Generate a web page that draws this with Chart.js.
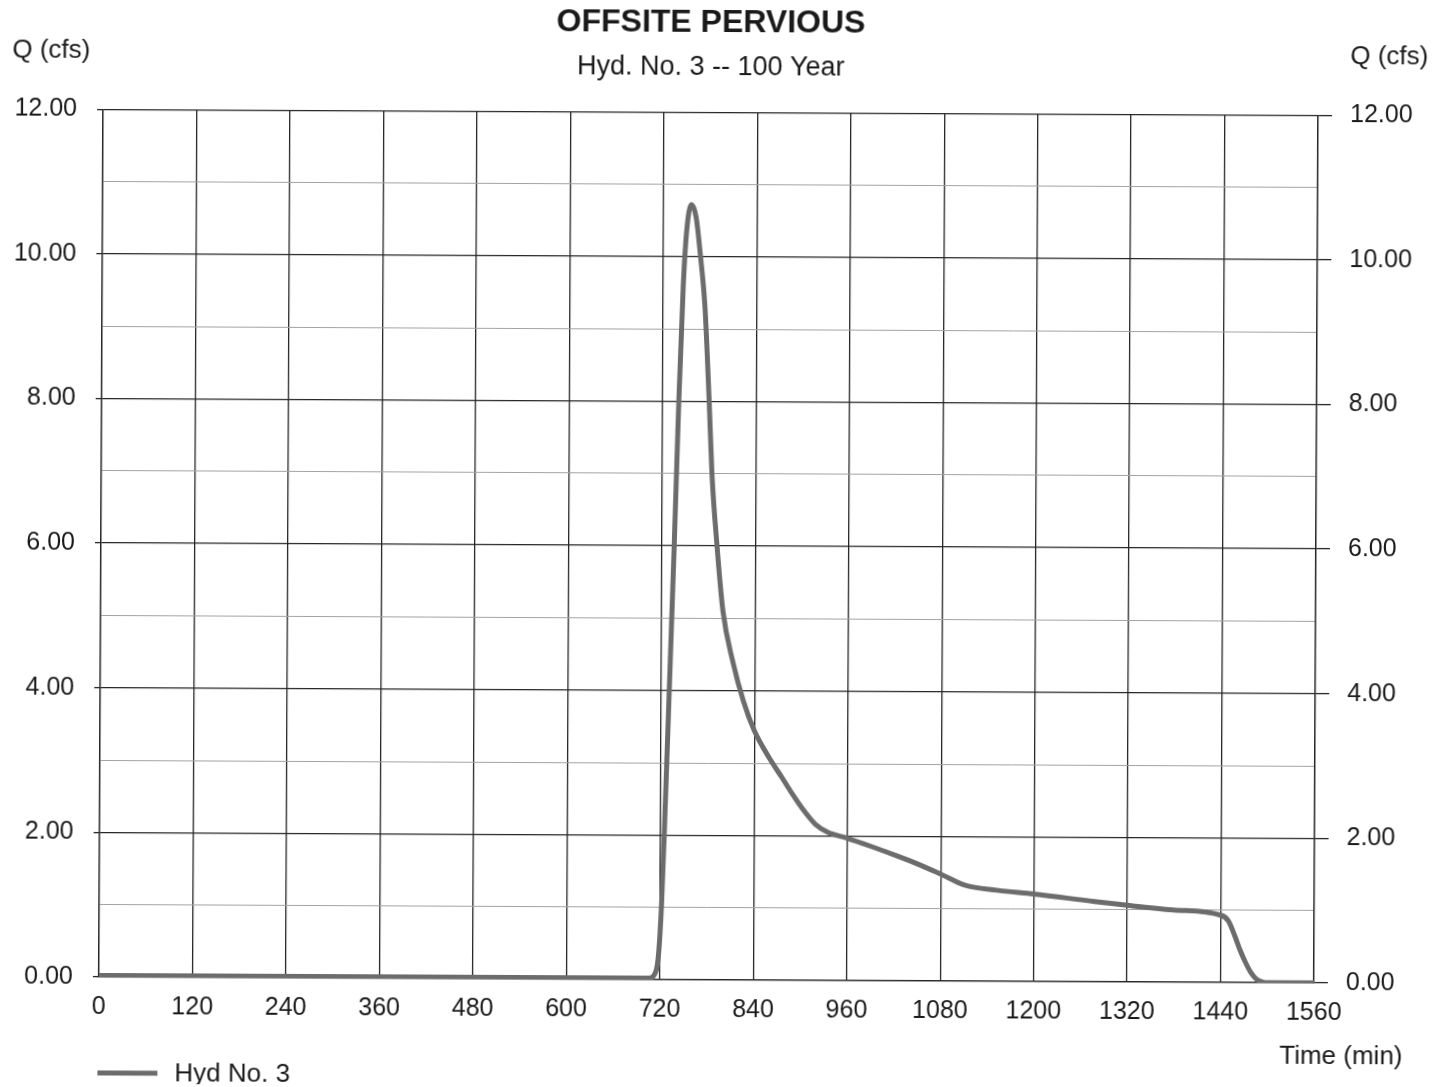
<!DOCTYPE html>
<html>
<head>
<meta charset="utf-8">
<title>Offsite Pervious - Hyd. No. 3</title>
<script src="https://cdn.jsdelivr.net/npm/chart.js@4.4.1/dist/chart.umd.min.js"></script>
<style>
  html, body { margin: 0; padding: 0; background: #fff; overflow: hidden; }
  #hydChart { display: block; transform: rotate(0.28deg); transform-origin: 50% 50%; }
</style>
</head>
<body>
<canvas id="hydChart" width="1445" height="1087"></canvas>
<script>
(function() {
    "use strict";

    // hydrograph ordinates: time (min) and flow (cfs)
    const timeMin = [0, 300, 600, 706, 712, 716, 718, 720, 722, 725, 730, 736, 741, 746, 750, 756,
        762, 768, 774, 780, 784, 791, 799, 812, 826, 840, 859, 876, 889, 904, 919, 935, 960,
        990, 1026, 1050, 1080, 1111, 1152, 1200, 1278, 1320, 1379, 1440, 1450, 1458, 1465,
        1472, 1479, 1486, 1494, 1500, 1530, 1560];
    const flowCfs = [0.02, 0.02, 0.02, 0.02, 0.05, 0.15, 0.3, 0.6, 1.05, 2.0, 3.8, 6.0, 8.0, 9.6, 10.35, 10.72,
        10.55, 10.0, 9.3, 8.0, 7.0, 6.0, 5.1, 4.4, 3.85, 3.45, 3.08, 2.8, 2.58, 2.35, 2.16, 2.05, 1.97,
        1.86, 1.72, 1.62, 1.48, 1.33, 1.26, 1.21, 1.11, 1.06, 1.0, 0.93, 0.85, 0.65, 0.45,
        0.28, 0.14, 0.05, 0.01, 0.0, 0.0, 0.0];

    const timeTicks = [0, 120, 240, 360, 480, 600, 720, 840, 960, 1080, 1200, 1320, 1440, 1560];
    const flowTicks = [0, 1, 2, 3, 4, 5, 6, 7, 8, 9, 10, 11, 12];
    const flowLabels = [0, 2, 4, 6, 8, 10, 12];

    const font = '"Liberation Sans", Arial, sans-serif';
    const ink = '#1a1a1a';
    const darkGrid = '#262626';
    const lightGrid = '#a3a3a3';

    const isMajor = v => flowLabels.includes(v);

    // axis captions and legend sit outside the plot box
    const pageText = {
        id: 'pageText',
        afterDraw(chart) {
            const { ctx, chartArea } = chart;
            const ds = chart.data.datasets[0];
            ctx.save();
            ctx.fillStyle = ink;
            ctx.font = '26px ' + font;
            ctx.textBaseline = 'middle';
            ctx.textAlign = 'left';
            ctx.fillText('Q (cfs)', 10, 54);
            ctx.fillText('Q (cfs)', chartArea.right + 32, 54);
            ctx.textAlign = 'right';
            ctx.fillText('Time (min)', 1405, 1054);

            ctx.strokeStyle = ds.borderColor;
            ctx.lineWidth = 5;
            ctx.beginPath();
            ctx.moveTo(100, 1076);
            ctx.lineTo(160, 1076);
            ctx.stroke();
            ctx.textAlign = 'left';
            ctx.fillText(ds.label, 177, 1077);
            ctx.restore();
        }
    };

    const ctx = document.getElementById('hydChart');
    new Chart(ctx, {
        type: 'line',
        data: {
            datasets: [{
                label: 'Hyd No. 3',
                data: timeMin.map((t, i) => ({ x: t, y: flowCfs[i] })),
                borderColor: '#6c6c6c',
                borderWidth: 5,
                pointRadius: 0,
                fill: false,
                cubicInterpolationMode: 'monotone'
            }]
        },
        options: {
            responsive: false,
            animation: false,
            layout: { padding: { top: 0, left: 0, right: 0, bottom: 0 } },
            plugins: {
                legend: { display: false },
                tooltip: { enabled: false },
                title: {
                    display: true,
                    fullSize: false,
                    text: 'OFFSITE PERVIOUS',
                    color: ink,
                    font: { family: font, size: 32, weight: 'bold', lineHeight: 1.2 },
                    padding: { top: 4, bottom: 4 }
                },
                subtitle: {
                    display: true,
                    fullSize: false,
                    text: 'Hyd. No. 3 -- 100 Year',
                    color: ink,
                    font: { family: font, size: 27, lineHeight: 1.2 },
                    padding: { top: 5, bottom: 28.4 }
                }
            },
            scales: {
                x: {
                    type: 'linear',
                    min: 0,
                    max: 1560,
                    afterBuildTicks: s => { s.ticks = timeTicks.map(v => ({ value: v })); },
                    afterFit: s => { s.height = 107; },
                    ticks: {
                        color: ink,
                        font: { family: font, size: 25 },
                        padding: 15,
                        maxRotation: 0,
                        autoSkip: false,
                        callback: v => String(v)
                    },
                    grid: { color: darkGrid, lineWidth: 1.3, drawTicks: false },
                    border: { display: true, color: darkGrid, width: 1.3 }
                },
                y: {
                    position: 'left',
                    min: 0,
                    max: 12,
                    afterBuildTicks: s => { s.ticks = flowTicks.map(v => ({ value: v })); },
                    afterFit: s => { s.width = 101; },
                    ticks: {
                        color: ink,
                        font: { family: font, size: 25 },
                        padding: 20,
                        autoSkip: false,
                        callback: v => isMajor(v) ? v.toFixed(2) : ''
                    },
                    grid: {
                        color: c => isMajor(c.tick.value) ? darkGrid : lightGrid,
                        lineWidth: c => isMajor(c.tick.value) ? 1.3 : 1,
                        tickColor: c => isMajor(c.tick.value) ? darkGrid : 'rgba(0,0,0,0)',
                        tickLength: 6
                    },
                    border: { display: true, color: darkGrid, width: 1.3 }
                },
                y2: {
                    position: 'right',
                    min: 0,
                    max: 12,
                    afterBuildTicks: s => { s.ticks = flowTicks.map(v => ({ value: v })); },
                    afterFit: s => { s.width = 129; },
                    ticks: {
                        color: ink,
                        font: { family: font, size: 25 },
                        padding: 18,
                        autoSkip: false,
                        callback: v => isMajor(v) ? v.toFixed(2) : ''
                    },
                    grid: {
                        drawOnChartArea: false,
                        tickColor: c => isMajor(c.tick.value) ? darkGrid : 'rgba(0,0,0,0)',
                        tickLength: 14,
                        lineWidth: 1.3
                    },
                    border: { display: true, color: darkGrid, width: 1.3 }
                }
            }
        },
        plugins: [pageText]
    });
})();
</script>
</body>
</html>
